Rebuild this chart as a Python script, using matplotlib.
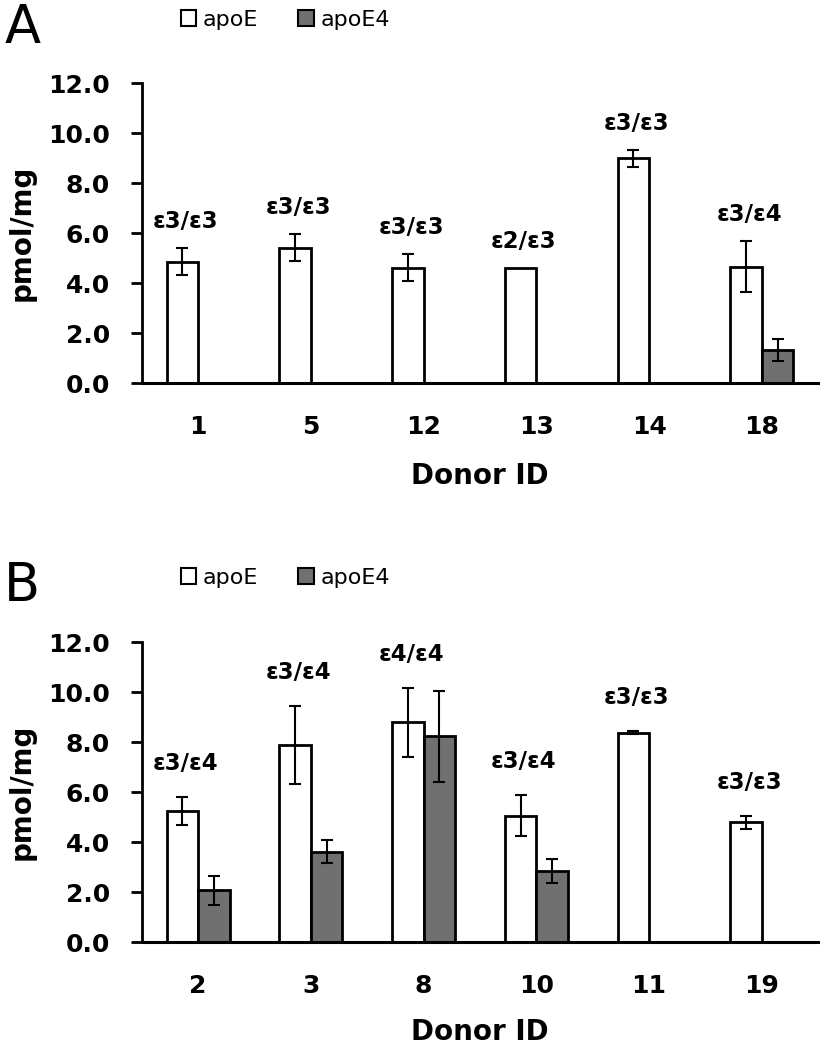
import matplotlib
matplotlib.use('Agg')
import matplotlib.pyplot as plt
from matplotlib.patches import Patch
import numpy as np

plt.rcParams['font.family'] = ['DejaVu Sans']

# panel A
donors_a = ['1', '5', '12', '13', '14', '18']
apoe_a = [4.87, 5.43, 4.63, 4.63, 9.00, 4.67]
apoe_err_a = [0.55, 0.55, 0.55, 0.0, 0.33, 1.02]
apoe4_a = [0, 0, 0, 0, 0, 1.33]
apoe4_err_a = [0, 0, 0, 0, 0, 0.43]
geno_a = ['ε3/ε3', 'ε3/ε3', 'ε3/ε3', 'ε2/ε3', 'ε3/ε3', 'ε3/ε4']

# panel B
donors_b = ['2', '3', '8', '10', '11', '19']
apoe_b = [5.25, 7.89, 8.80, 5.07, 8.39, 4.80]
apoe_err_b = [0.55, 1.56, 1.37, 0.81, 0.05, 0.25]
apoe4_b = [2.09, 3.63, 8.25, 2.85, 0, 0]
apoe4_err_b = [0.58, 0.47, 1.82, 0.47, 0, 0]
geno_b = ['ε3/ε4', 'ε3/ε4', 'ε4/ε4', 'ε3/ε4', 'ε3/ε3', 'ε3/ε3']

GREY = '#707070'
W = 0.28


def panel(ax, donors, apoe, apoe_err, apoe4, apoe4_err, geno, gap, xlab_y):
    x = np.arange(len(donors))
    ekw = dict(ecolor='black', elinewidth=1.5, capsize=4.5, capthick=1.5)
    ax.bar(x - W / 2, apoe, W, color='white', edgecolor='black', linewidth=2)
    ax.errorbar(x - W / 2, apoe, yerr=[e if e > 0 else np.nan for e in apoe_err],
                fmt='none', **ekw)
    m = np.array(apoe4) > 0
    ax.bar(x[m] + W / 2, np.array(apoe4)[m], W, color=GREY, edgecolor='black', linewidth=2)
    ax.errorbar(x[m] + W / 2, np.array(apoe4)[m], yerr=np.array(apoe4_err)[m],
                fmt='none', **ekw)
    # genotype above each donor
    for i in range(len(donors)):
        top = max(apoe[i] + apoe_err[i], apoe4[i] + apoe4_err[i])
        ax.text(i - 0.11, top + gap, geno[i], ha='center', va='center',
                fontsize=16.5, fontweight='bold')
    ax.set_xlim(-0.5, len(donors) - 0.5)
    ax.set_ylim(0, 12)
    ax.set_yticks(np.arange(0, 12.1, 2))
    ax.set_yticklabels(['%.1f' % v for v in np.arange(0, 12.1, 2)])
    ax.set_xticks(x)
    ax.set_xticklabels(donors)
    ax.tick_params(axis='x', length=0, pad=23, labelsize=18)
    ax.tick_params(axis='y', length=8, width=2, labelsize=18, pad=15)
    for lab in ax.get_xticklabels() + ax.get_yticklabels():
        lab.set_fontweight('bold')
    ax.spines['top'].set_visible(False)
    ax.spines['right'].set_visible(False)
    ax.spines['left'].set_linewidth(2)
    ax.spines['bottom'].set_linewidth(2.2)
    ax.set_xlabel('Donor ID', fontsize=20, fontweight='bold', va='center')
    ax.set_ylabel('pmol/mg', fontsize=20, fontweight='bold', va='center')
    ax.xaxis.set_label_coords(0.5, xlab_y)
    ax.yaxis.set_label_coords(-0.177, 0.5)


fig = plt.figure(figsize=(8.22, 10.5), dpi=100)
ax_a = fig.add_axes([0.1724, 0.635, 0.823, 0.2857])
ax_b = fig.add_axes([0.1724, 0.1026, 0.823, 0.2857])
panel(ax_a, donors_a, apoe_a, apoe_err_a, apoe4_a, apoe4_err_a, geno_a, 1.05, -0.31)
panel(ax_b, donors_b, apoe_b, apoe_err_b, apoe4_b, apoe4_err_b, geno_b, 1.35, -0.30)

handles = [Patch(facecolor='white', edgecolor='black', linewidth=1.5, label='apoE'),
           Patch(facecolor=GREY, edgecolor='black', linewidth=1.5, label='apoE4')]
for yc in (1 - 20 / 1050, 1 - 578 / 1050):
    fig.legend(handles=handles, loc='center', bbox_to_anchor=(0.347, yc), ncol=2,
               frameon=False, fontsize=16, handlelength=0.7, handleheight=0.7,
               handletextpad=0.3, columnspacing=1.8)

fig.text(0.005, 1 - 28 / 1050, 'A', fontsize=38, va='center', ha='left')
fig.text(0.005, 1 - 586 / 1050, 'B', fontsize=38, va='center', ha='left')

fig.savefig('out.png', dpi=100)
